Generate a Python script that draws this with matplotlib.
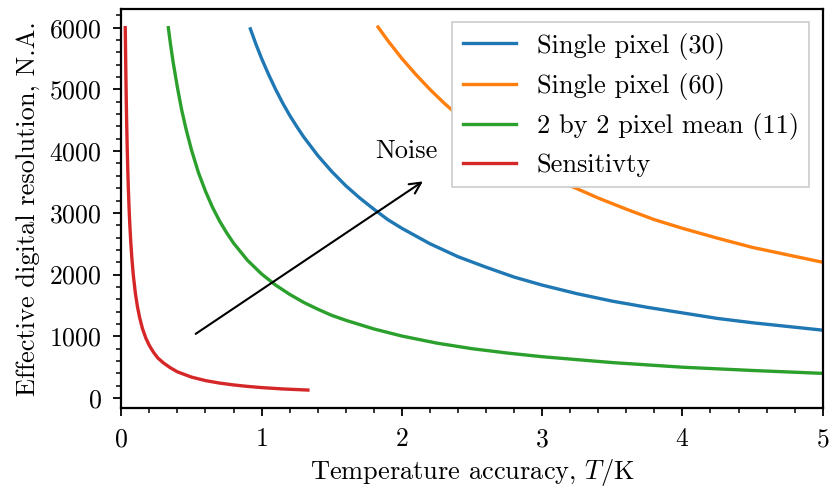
import matplotlib
matplotlib.use("Agg")
import matplotlib.pyplot as plt

plt.rcParams['font.family'] = 'serif'
plt.rcParams['font.serif'] = ['cmr10']
plt.rcParams['mathtext.fontset'] = 'cm'
plt.rcParams['axes.formatter.use_mathtext'] = True
plt.rcParams['font.size'] = 19

# values
x_single30 = [0.92, 0.96, 1.0, 1.05, 1.1, 1.15, 1.2, 1.25, 1.3, 1.4, 1.5, 1.6, 1.7, 1.8, 1.9, 2.0,
              2.2, 2.4, 2.6, 2.8, 3.0, 3.25, 3.5, 3.75, 4.0, 4.25, 4.5, 4.75, 5.0]
y_single30 = [5980, 5730, 5500, 5240, 5000, 4780, 4580, 4400, 4230, 3930, 3670, 3440, 3240, 3060, 2890, 2750,
              2500, 2290, 2120, 1960, 1830, 1690, 1570, 1470, 1380, 1290, 1220, 1160, 1100]

x_single60 = [1.83, 1.9, 2.0, 2.1, 2.2, 2.3, 2.4, 2.5, 2.6, 2.8, 3.0, 3.2, 3.4, 3.6, 3.8, 4.0,
              4.25, 4.5, 4.75, 5.0]
y_single60 = [6010, 5790, 5500, 5240, 5000, 4780, 4580, 4400, 4230, 3930, 3670, 3440, 3240, 3060, 2890, 2750,
              2590, 2440, 2320, 2200]

x_mean11 = [0.335, 0.35, 0.37, 0.4, 0.43, 0.46, 0.5, 0.55, 0.6, 0.65, 0.7, 0.75, 0.8, 0.9, 1.0, 1.1,
            1.2, 1.3, 1.4, 1.5, 1.6, 1.8, 2.0, 2.25, 2.5, 2.75, 3.0, 3.5, 4.0, 4.5, 5.0]
y_mean11 = [6000, 5740, 5430, 5030, 4670, 4370, 4020, 3650, 3350, 3090, 2870, 2680, 2510, 2230, 2010, 1830,
            1680, 1550, 1440, 1340, 1260, 1120, 1005, 890, 800, 730, 670, 575, 500, 447, 400]

x_sens = [0.028, 0.03, 0.032, 0.035, 0.038, 0.042, 0.046, 0.05, 0.055, 0.06, 0.067, 0.075, 0.085, 0.1,
          0.115, 0.13, 0.15, 0.175, 0.2, 0.23, 0.26, 0.3, 0.35, 0.4, 0.5, 0.6, 0.7, 0.8, 0.9, 1.0, 1.15, 1.33]
y_sens = [6000, 5670, 5310, 4860, 4470, 4050, 3700, 3400, 3090, 2830, 2540, 2270, 2000, 1700,
          1480, 1310, 1130, 970, 850, 740, 650, 570, 490, 425, 340, 283, 243, 213, 189, 170, 148, 130]

labels = ['Single pixel (30)', 'Single pixel (60)', '2 by 2 pixel mean (11)', 'Sensitivty']

fig = plt.figure(figsize=(8.31, 4.93), dpi=100)
ax = fig.add_axes([0.146, 0.172, 0.844, 0.810])

lw = 2.4
ax.plot(x_single30, y_single30, color='tab:blue', lw=lw, label=labels[0])
ax.plot(x_single60, y_single60, color='tab:orange', lw=lw, label=labels[1])
ax.plot(x_mean11, y_mean11, color='tab:green', lw=lw, label=labels[2])
ax.plot(x_sens, y_sens, color='tab:red', lw=lw, label=labels[3])

# noise arrow
ax.annotate('', xy=(2.15, 3510), xytext=(0.53, 1040),
            arrowprops=dict(arrowstyle='->', color='black', lw=1.5, mutation_scale=20,
                            shrinkA=0, shrinkB=0))
ax.text(2.03, 4000, 'Noise', ha='center', va='center')

ax.set_xlim(0, 5)
ax.set_xlabel(r'Temperature accuracy, $T/\mathrm{K}$', labelpad=4)
ax.set_ylabel('Effective digital resolution, N.A.', labelpad=6.5)
ax.minorticks_on()
ax.tick_params(which='major', length=6, width=1.3, labelsize=18.5, pad=8)
ax.tick_params(which='minor', length=3.5, width=1.1)
for s in ax.spines.values():
    s.set_linewidth(1.6)

leg = ax.legend(loc='upper right', fancybox=False, framealpha=1, edgecolor='#cccccc')
leg.get_frame().set_linewidth(1.2)

fig.savefig('out.png', dpi=100)
